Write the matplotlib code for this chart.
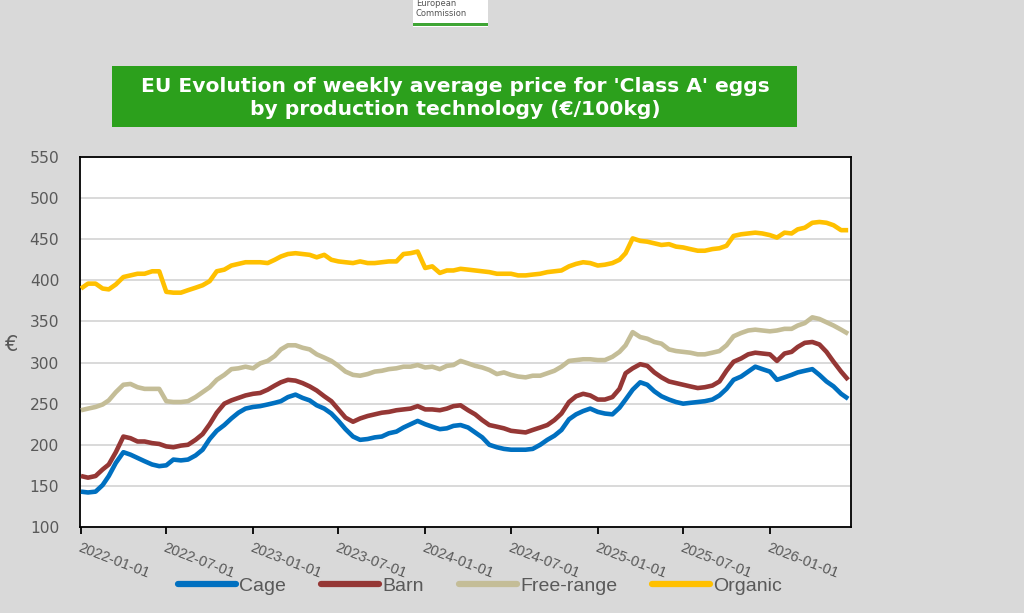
import matplotlib
matplotlib.use("Agg")
import matplotlib.pyplot as plt
from matplotlib.patches import Rectangle
import datetime as dt

# half-monthly observation dates (1st and 16th) 2022-01-01 .. 2026-06-16
dates = []
for yr in range(2022, 2027):
    for mo in range(1, 13):
        for dd in (1, 16):
            d = dt.date(yr, mo, dd)
            if d <= dt.date(2026, 6, 16):
                dates.append(d)

cage = [143, 142, 143, 151, 162, 178, 191, 188, 184, 180, 176, 174, 175, 182, 181, 182, 187, 194, 207, 217, 224, 232, 239, 244, 246, 247, 249, 251,
        253, 258, 261, 257, 254, 248, 244, 238, 229, 219, 210, 206, 207, 209, 210, 214, 216, 221, 225, 229, 225, 222, 219, 220, 223, 224, 221,
        215, 209, 200, 197, 195, 194, 194, 194, 195, 200, 206, 211, 218, 231, 237, 241, 244, 240, 238, 237, 245, 255, 267, 276, 273, 265, 259,
        255, 252, 250, 251, 252, 253, 255, 260, 268, 279, 283, 289, 295, 292, 289, 279, 282, 285, 288, 290, 292, 285, 277, 271, 262, 256]

barn = [162, 160, 162, 170, 176, 191, 210, 208, 204, 204, 202, 201, 198, 197, 199, 200, 206, 213, 225, 239, 250, 254, 257, 260, 262, 263, 267, 272,
        276, 279, 278, 275, 271, 266, 259, 253, 243, 233, 228, 232, 235, 237, 239, 240, 242, 243, 244, 247, 243, 243, 242, 244, 247, 248, 242,
        237, 230, 224, 222, 220, 217, 216, 215, 218, 221, 224, 230, 238, 252, 259, 262, 260, 255, 255, 258, 268, 287, 293, 298, 296, 288, 282,
        277, 275, 273, 271, 269, 270, 272, 277, 290, 301, 305, 310, 312, 311, 310, 302, 311, 313, 319, 324, 325, 322, 313, 301, 289, 279]

free_range = [242, 244, 246, 249, 254, 264, 273, 274, 270, 268, 268, 268, 253, 252, 252, 253, 258, 264, 270, 279, 285, 292, 293, 295, 293, 299, 302, 308,
              316, 321, 321, 318, 316, 310, 306, 302, 296, 289, 285, 284, 286, 289, 290, 292, 293, 295, 295, 297, 294, 295, 292, 296, 297, 302, 299,
              296, 294, 291, 286, 288, 285, 283, 282, 284, 284, 287, 290, 295, 302, 303, 304, 304, 303, 303, 307, 313, 321, 337, 331, 329, 325, 323,
              316, 314, 313, 312, 310, 310, 312, 314, 321, 332, 336, 339, 340, 339, 338, 339, 341, 341, 345, 348, 355, 353, 349, 345, 340, 335]

organic = [390, 396, 396, 390, 389, 395, 404, 406, 408, 408, 411, 411, 386, 385, 385, 388, 391, 394, 399, 411, 413, 418, 420, 422, 422, 422, 421, 425,
           429, 432, 433, 432, 431, 428, 431, 425, 423, 422, 421, 423, 421, 421, 422, 423, 423, 432, 433, 435, 415, 417, 409, 412, 412, 414, 413,
           412, 411, 410, 408, 408, 408, 406, 406, 407, 408, 410, 411, 412, 417, 420, 422, 421, 418, 419, 421, 425, 433, 451, 448, 447, 445, 443,
           444, 441, 440, 438, 436, 436, 438, 439, 442, 454, 456, 457, 458, 457, 455, 452, 458, 457, 462, 464, 470, 471, 470, 467, 461, 461]

series_names = ["Cage", "Barn", "Free-range", "Organic"]
series_colors = ["#0070c0", "#953735", "#c4bd97", "#ffc000"]
tick_dates = ["2022-01-01", "2022-07-01", "2023-01-01", "2023-07-01", "2024-01-01",
              "2024-07-01", "2025-01-01", "2025-07-01", "2026-01-01"]
y_ticks = [100, 150, 200, 250, 300, 350, 400, 450, 500, 550]
title_text = "EU Evolution of weekly average price for 'Class A' eggs\nby production technology (€/100kg)"

W, H = 1024, 613
fig = plt.figure(figsize=(W / 100, H / 100), dpi=100)
fig.patch.set_facecolor("#d9d9d9")

ax = fig.add_axes([80 / W, 1 - 527 / H, (851 - 80) / W, (527 - 157) / H])
ax.set_facecolor("white")

all_vals = [cage, barn, free_range, organic]
for i, (name, col, vals) in enumerate(zip(series_names, series_colors, all_vals)):
    ax.plot(dates, vals, color=col, lw=3.3, label=name, zorder=10 - i,
            solid_joinstyle="round", solid_capstyle="butt")

ax.set_ylim(100, 550)
ax.set_yticks(y_ticks)
ax.set_xlim(dt.date(2021, 12, 30), dt.date(2026, 6, 22))
ax.set_xticks([dt.date.fromisoformat(s) for s in tick_dates])
ax.set_xticklabels(tick_dates)
ax.grid(axis="y", color="#d9d9d9", lw=1.4, zorder=0)
ax.set_axisbelow(True)

for sp in ax.spines.values():
    sp.set_color("black")
    sp.set_linewidth(1.3)

ax.tick_params(axis="y", length=0, pad=15, labelsize=11.2, labelcolor="#595959")
for lab in ax.get_yticklabels():
    lab.set_fontfamily("DejaVu Sans")
ax.tick_params(axis="x", length=5, width=1.3, direction="out", pad=5, labelsize=10.5, labelcolor="#595959")
for lab in ax.get_xticklabels():
    lab.set_rotation(-21)
    lab.set_ha("left")
    lab.set_va("top")
    lab.set_rotation_mode("anchor")
    lab.set_fontfamily(["Liberation Sans", "DejaVu Sans"])

fig.text(12 / W, 1 - 345 / H, "€", fontsize=15, color="#595959", ha="center", va="center")

# title box
fig.patches.append(Rectangle((112 / W, 1 - 127 / H), (797 - 112) / W, (127 - 66) / H,
                             transform=fig.transFigure, facecolor="#2ca01c", edgecolor="none"))
fig.text(455 / W, 1 - 98 / H, title_text, ha="center", va="center", color="white",
         fontsize=14.6, fontweight="bold", family="DejaVu Sans", linespacing=1.32)

# logo box
fig.patches.append(Rectangle((413 / W, 1 - 27 / H), 75 / W, 27 / H,
                             transform=fig.transFigure, facecolor="white", edgecolor="none"))
fig.patches.append(Rectangle((413 / W, 1 - 26 / H), 75 / W, 3 / H,
                             transform=fig.transFigure, facecolor="#3fa535", edgecolor="none"))
fig.text(416 / W, 1 - 3 / H, "European", fontsize=6, color="#555555", ha="left", va="center")
fig.text(416 / W, 1 - 14 / H, "Commission", fontsize=6, color="#555555", ha="left", va="center")

leg = fig.legend(loc="center", bbox_to_anchor=(480 / W, 1 - 586 / H), ncol=4, frameon=False,
                 handlelength=3.0, handletextpad=0.15, columnspacing=1.8,
                 prop={"family": ["Liberation Sans", "DejaVu Sans"], "size": 14})
for t in leg.get_texts():
    t.set_color("#595959")
for h in leg.get_lines():
    h.set_linewidth(4.5)
    h.set_solid_capstyle("round")

fig.savefig("out.png", dpi=100, facecolor=fig.get_facecolor())
